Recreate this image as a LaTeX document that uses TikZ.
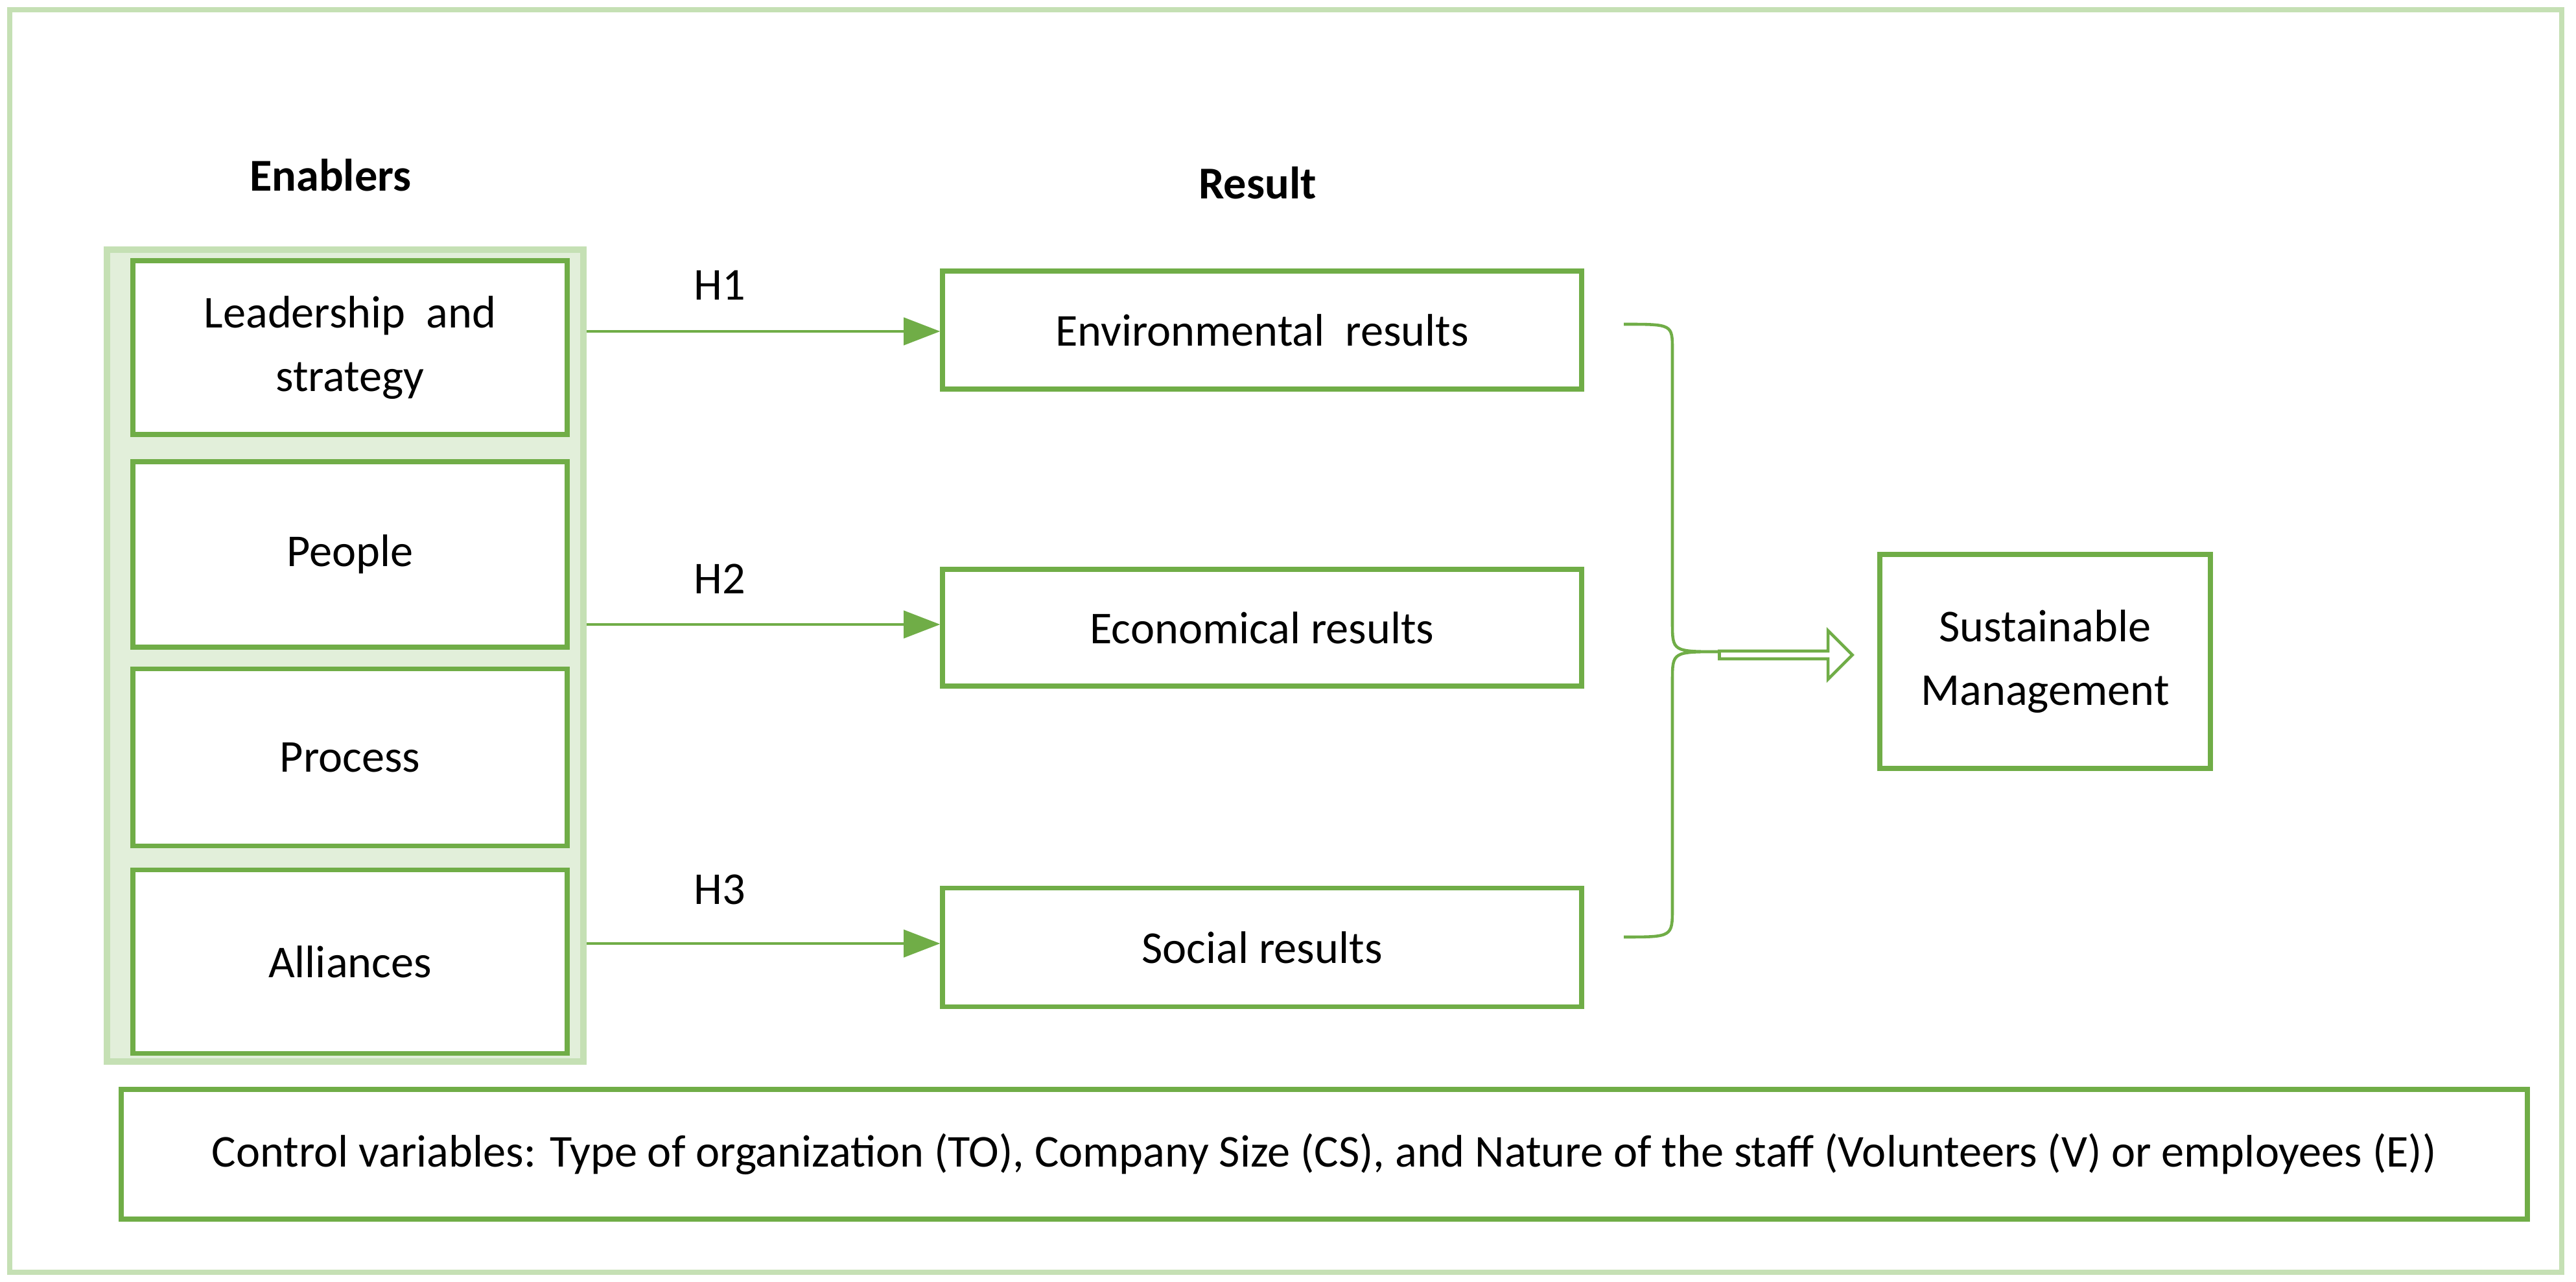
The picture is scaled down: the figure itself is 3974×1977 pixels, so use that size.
\documentclass[tikz,border=0pt]{standalone}
\usepackage{fontspec}
\setmainfont{Carlito}
\usetikzlibrary{arrows.meta,decorations.pathreplacing,shapes.arrows}
\definecolor{gline}{RGB}{112,173,71}
\definecolor{gfill}{RGB}{226,239,218}
\definecolor{gframe}{RGB}{197,224,180}
\begin{document}
\begin{tikzpicture}[x=0.01cm,y=-0.01cm,
  bx/.style={draw=gline,line width=2.2pt,fill=white,align=center,font=\fontsize{20}{28}\selectfont},
  lab/.style={font=\fontsize{20}{24}\selectfont},
  hd/.style={font=\bfseries\fontsize{20}{24}\selectfont},
  arr/.style={draw=gline,line width=1.2pt,-{Triangle[length=16pt,width=12pt]}}]
\fill[white] (0,0) rectangle (3974,1977);
\draw[gframe,line width=2.5pt] (15,15) rectangle (3952,1962);
\draw[gframe,line width=3pt,fill=gfill] (165,385) rectangle (900,1637);
\node[bx,minimum width=6.7cm,minimum height=2.68cm] (lead) at (540,536) {Leadership~ and\\strategy};
\node[bx,minimum width=6.7cm,minimum height=2.86cm] (peop) at (540,855) {People};
\node[bx,minimum width=6.7cm,minimum height=2.73cm] (proc) at (540,1168) {Process};
\node[bx,minimum width=6.7cm,minimum height=2.83cm] (alli) at (540,1483) {Alliances};
\node[hd] (en) at (510,270) {Enablers};
\node[hd] (re) at (1940,282) {Result};
\node[bx,minimum width=9.85cm,minimum height=1.82cm] (env) at (1947,509) {Environmental~ results};
\node[bx,minimum width=9.85cm,minimum height=1.8cm] (eco) at (1947,968) {Economical results};
\node[bx,minimum width=9.85cm,minimum height=1.83cm] (soc) at (1947,1461) {Social results};
\node[bx,minimum width=5.1cm,minimum height=3.3cm] (sus) at (3155,1020) {Sustainable\\Management};
\node[bx,minimum width=37.1cm,minimum height=2.0cm] (ctl) at (2043,1780) {Control variables: Type of organization (TO), Company Size (CS), and Nature of the staff (Volunteers (V) or employees (E))};
\coordinate (s1) at (905,511); \coordinate (s2) at (905,963); \coordinate (s3) at (905,1455);
\draw[arr] (s1) -- (env.west |- s1);
\draw[arr] (s2) -- (eco.west |- s2);
\draw[arr] (s3) -- (soc.west |- s3);
\node[lab] (h1) at (1110,440) {H1};
\node[lab] (h2) at (1110,893) {H2};
\node[lab] (h3) at (1110,1372) {H3};
\draw[gline,line width=1.3pt] (2505,500) .. controls (2580,500) .. (2580,540) -- (2580,960) .. controls (2580,1005) .. (2655,1005) .. controls (2580,1005) .. (2580,1050) -- (2580,1400) .. controls (2580,1445) .. (2505,1445);
\node[single arrow,draw=gline,line width=1.3pt,fill=white,minimum height=2.05cm,minimum width=0.75cm,single arrow head extend=0.12cm,inner sep=0pt] (ha) at (2752,1010) {};
\end{tikzpicture}
\end{document}
